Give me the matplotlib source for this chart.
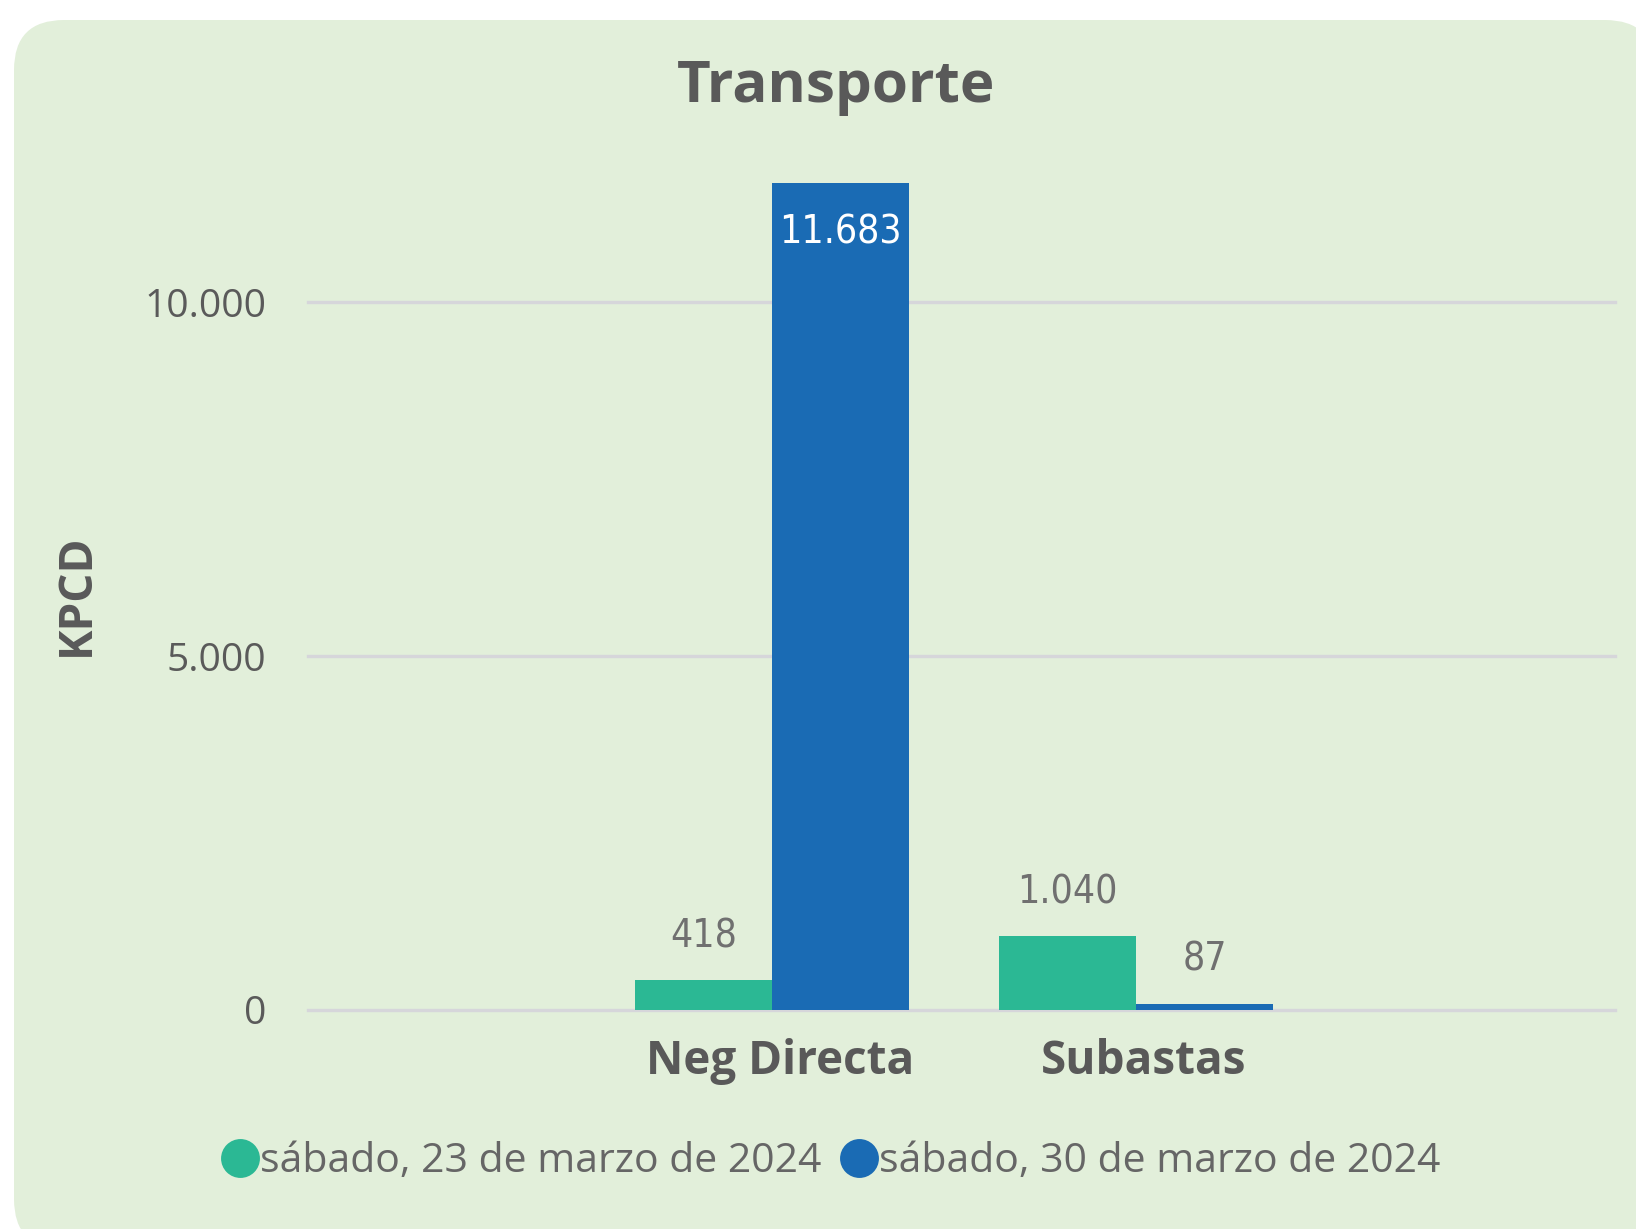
import numpy as np
import matplotlib.pyplot as plt
import matplotlib.transforms as mtransforms
from matplotlib.patches import FancyBboxPatch
from matplotlib.lines import Line2D

plt.rcParams['font.family'] = ['Open Sans', 'DejaVu Sans']

categories = ['Neg Directa', 'Subastas']
serie_23 = [418, 1040]
serie_30 = [11683, 87]
labels = ['sábado, 23 de marzo de 2024', 'sábado, 30 de marzo de 2024']
colors = ['#2BB894', '#1A6BB4']

W, H = 1636, 1229
fig = plt.figure(figsize=(W / 100, H / 100), dpi=100)
fig.patch.set_facecolor('white')

# rounded card background (inches, so corners stay round)
card = FancyBboxPatch((14 / 100, -20 / 100), (1655 - 14) / 100, (H - 20 + 20) / 100,
                      boxstyle='round,pad=0,rounding_size=0.5',
                      transform=fig.dpi_scale_trans, facecolor='#E2EFDA',
                      edgecolor='none', zorder=-5)
fig.patches.append(card)

# axes placed by pixel position
left, right, bottom, top = 308, 1615, 1010, 182
ax = fig.add_axes([left / W, (H - bottom) / H, (right - left) / W, (bottom - top) / H])
ax.set_facecolor('none')
ax.set_zorder(2)

x = np.arange(len(categories))
bw = 0.376
ax.bar(x - bw / 2, serie_23, bw, color=colors[0], zorder=3)
ax.bar(x + bw / 2, serie_30, bw, color=colors[1], zorder=3)

ax.set_xlim(-1.275, 2.316)
ax.set_ylim(0, 11700)
ax.set_yticks([0, 5000, 10000])
ax.set_yticklabels(['0', '5.000', '10.000'])
ax.yaxis.grid(True, color='#D6D6DA', linewidth=2.4, zorder=0)
for gl in ax.get_ygridlines():
    gl.set_clip_on(False)
ax.set_axisbelow(True)
for s in ax.spines.values():
    s.set_visible(False)
ax.tick_params(axis='y', length=0, pad=30, labelsize=28, labelcolor='#5A5A5A')
ax.tick_params(axis='x', length=0, pad=20)
ax.set_xticks(x)
ax.set_xticklabels(categories, fontsize=33, fontweight='bold', color='#595959')
shift = mtransforms.ScaledTranslation(8 / 100, 0, fig.dpi_scale_trans)
for lbl in ax.get_xticklabels():
    lbl.set_transform(lbl.get_transform() + shift)

lab_font = dict(family='DejaVu Sans', stretch='condensed', fontsize=28)
for xi, v in zip(x - bw / 2, serie_23):
    ax.annotate(f'{v:,}'.replace(',', '.'), (xi, v), xytext=(0, 18),
                textcoords='offset points', ha='center', va='bottom',
                color='#707070', **lab_font)
for xi, v in zip(x + bw / 2, serie_30):
    txt = f'{v:,}'.replace(',', '.')
    if v > 5000:
        ax.annotate(txt, (xi, v), xytext=(0, -22), textcoords='offset points',
                    ha='center', va='top', color='white', **lab_font)
    else:
        ax.annotate(txt, (xi, v), xytext=(0, 18), textcoords='offset points',
                    ha='center', va='bottom', color='#707070', **lab_font)

fig.text(836 / W, 1 - 87 / H, 'Transporte', ha='center', va='center',
         fontsize=42, fontweight='bold', color='#595959')
fig.text(76 / W, 1 - 595 / H, 'KPCD', ha='center', va='center', rotation=90,
         fontsize=33, fontweight='bold', color='#595959')

handles = [Line2D([], [], marker='o', linestyle='none', markersize=28,
                  markerfacecolor=c, markeredgecolor='none') for c in colors]
fig.legend(handles, labels, loc='center', bbox_to_anchor=(830 / W, 1 - 1162 / H),
           ncol=2, frameon=False, fontsize=29.5, labelcolor='#666666',
           handletextpad=0.0, columnspacing=0.4, handlelength=1.0)

fig.savefig('out.png', dpi=100, facecolor='white')
